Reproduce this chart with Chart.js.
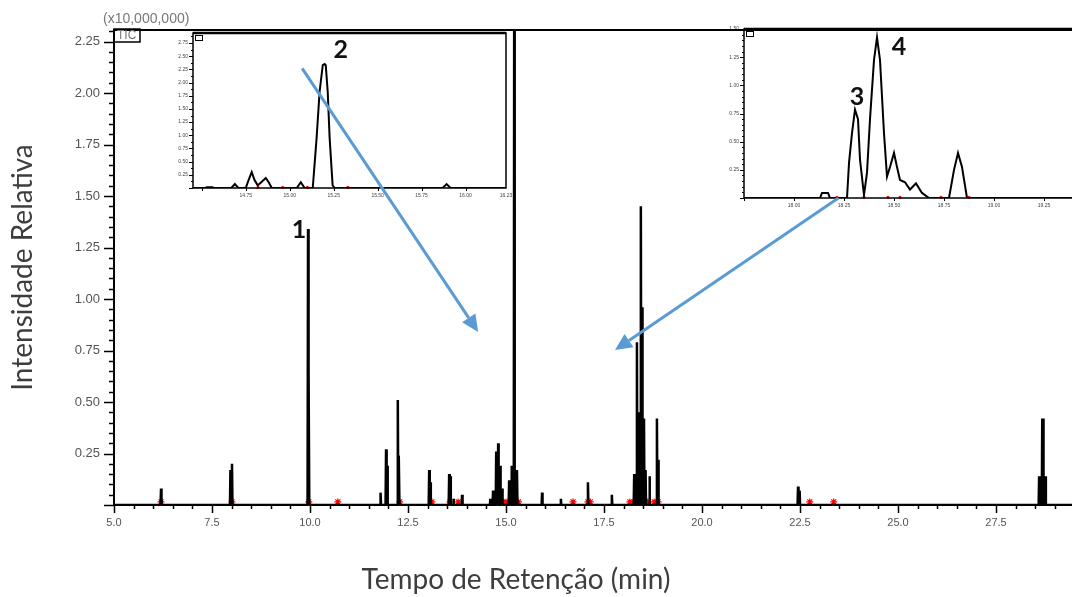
<!DOCTYPE html>
<html>
<head>
<meta charset="utf-8">
<script src="https://cdn.jsdelivr.net/npm/chart.js@4/dist/chart.umd.min.js"></script>
<style>
  html, body { margin: 0; padding: 0; background: #fff; overflow: hidden; width: 1072px; height: 597px; }
  #wrap { position: relative; width: 1072px; height: 597px; }
  canvas { position: absolute; }
  #inset1 { left: 155px; top: 25px; z-index: 1; }
  #inset2 { left: 700px; top: 20px; z-index: 1; }
  #main { left: 0; top: 0; z-index: 2; }
</style>
</head>
<body>
<div id="wrap">
  <canvas id="inset1" width="360" height="185"></canvas>
  <canvas id="inset2" width="420" height="195"></canvas>
  <canvas id="main" width="1100" height="597"></canvas>
</div>
<script>
// Main TIC chromatogram: peak retention times (min) and heights (x10,000,000)
const peakTimes = [6.20, 7.97, 8.01, 9.95, 9.97, 11.80, 11.94, 11.97, 12.24, 12.27,
  13.04, 13.07, 13.55, 13.58, 13.66, 13.88, 14.60, 14.67, 14.75, 14.80, 14.85, 14.90,
  15.08, 15.14, 15.21, 15.28, 15.92, 16.40, 17.09, 17.70, 18.27, 18.34, 18.37, 18.44,
  18.47, 18.52, 18.56, 18.66, 18.85, 18.88, 22.45, 22.49, 28.60, 28.68, 28.70, 28.76];
const peakHeights = [0.08, 0.17, 0.20, 1.34, 0.64, 0.06, 0.27, 0.19, 0.51, 0.24,
  0.17, 0.11, 0.15, 0.14, 0.03, 0.05, 0.03, 0.07, 0.26, 0.30, 0.19, 0.08,
  0.12, 0.19, 2.60, 0.17, 0.06, 0.03, 0.11, 0.05, 0.15, 0.79, 0.45, 1.45,
  0.96, 0.42, 0.17, 0.14, 0.42, 0.22, 0.09, 0.07, 0.14, 0.42, 0.42, 0.14];
// red integration markers on the baseline
const markTimes = [6.20, 8.01, 9.97, 10.71, 12.29, 13.11, 13.57, 13.78, 14.78, 14.90,
  15.00, 15.10, 15.25, 15.32, 16.71, 17.09, 17.15, 18.16, 18.27, 18.36, 18.45, 18.55,
  18.62, 18.78, 18.88, 22.75, 23.36];
const xTicks = { min: 5, max: 30, step: 2.5 };
const yTicks = { min: 0, max: 2.306, step: 0.25 };

// Inset 1 (peak 2) trace
const inset1Times = [14.45, 14.52, 14.53, 14.56, 14.57, 14.668, 14.688, 14.708, 14.75, 14.766,
  14.784, 14.80, 14.818, 14.841, 14.864, 14.882, 14.898, 15.04, 15.063, 15.085, 15.131,
  15.153, 15.17, 15.188, 15.199, 15.205, 15.216, 15.227, 15.244, 15.256, 15.87, 15.892,
  15.915, 16.23];
const inset1Values = [0, 0, 0.012, 0.012, 0, 0, 0.075, 0, 0, 0.15,
  0.30, 0.15, 0.05, 0.12, 0.19, 0.10, 0, 0, 0.11, 0, 0,
  0.95, 1.83, 2.33, 2.35, 2.33, 1.83, 0.95, 0.05, 0, 0, 0.075,
  0, 0];
const inset1Marks = [14.82, 14.96, 15.10, 15.33];

// Inset 2 (peaks 3 and 4) trace
const inset2Times = [17.75, 18.13, 18.14, 18.17, 18.18, 18.265, 18.275, 18.29, 18.305, 18.32,
  18.33, 18.35, 18.365, 18.38, 18.40, 18.415, 18.43, 18.45, 18.465, 18.48, 18.50, 18.515,
  18.53, 18.555, 18.58, 18.61, 18.64, 18.675, 18.775, 18.80, 18.82, 18.84, 18.865, 19.45];
const inset2Values = [0, 0, 0.045, 0.045, 0, 0, 0.31, 0.575, 0.785, 0.70,
  0.34, 0.025, 0.225, 0.70, 1.225, 1.425, 1.225, 0.575, 0.19, 0.275, 0.40, 0.275,
  0.16, 0.14, 0.075, 0.13, 0.045, 0, 0, 0.25, 0.40, 0.275, 0, 0];
const inset2Marks = [18.215, 18.35, 18.47, 18.53, 18.735, 18.875];

const MARK_Y = 0.015;
const TXT = '#3d3d3d';

// build the spike trace from the peak table
function spikeTrace(times, heights, from, to) {
  const hw = 0.012;
  const pts = [{ x: from, y: 0 }];
  times.forEach((t, i) => {
    pts.push({ x: t - hw, y: 0 }, { x: t, y: heights[i] }, { x: t + hw, y: 0 });
  });
  pts.push({ x: to, y: 0 });
  return pts;
}

// minor/major tick marks drawn outside the plot area
const tickMarks = {
  id: 'tickMarks',
  afterDraw(chart, args, o) {
    const { ctx, chartArea: a, scales: { x, y } } = chart;
    const isMajor = (v, s) => Math.abs(v / s - Math.round(v / s)) < 1e-6;
    ctx.save();
    ctx.strokeStyle = '#000';
    ctx.lineWidth = o.width;
    ctx.beginPath();
    let start = Math.ceil(x.min / o.xMinor - 1e-6);
    for (let i = start; i * o.xMinor <= x.max + 1e-9; i++) {
      const v = i * o.xMinor, px = Math.round(x.getPixelForValue(v)) + 0.5;
      const len = isMajor(v, o.xMajor) ? o.xLen[0] : o.xLen[1];
      ctx.moveTo(px, a.bottom); ctx.lineTo(px, a.bottom + len);
    }
    start = Math.ceil(y.min / o.yMinor - 1e-6);
    for (let i = start; i * o.yMinor <= y.max + 1e-9; i++) {
      const v = i * o.yMinor, py = Math.round(y.getPixelForValue(v)) + 0.5;
      const len = isMajor(v, o.yMajor) ? o.yLen[0] : o.yLen[1];
      ctx.moveTo(a.left, py); ctx.lineTo(a.left - len, py);
    }
    ctx.stroke();
    ctx.restore();
  }
};

// number labels placed at data coordinates
const peakLabels = {
  id: 'peakLabels',
  afterDatasetsDraw(chart, args, o) {
    const { ctx, scales: { x, y } } = chart;
    ctx.save();
    ctx.font = 'bold 25px Lato';
    ctx.fillStyle = '#111';
    ctx.textAlign = 'center';
    ctx.textBaseline = 'middle';
    (o.items || []).forEach(it => ctx.fillText(it.text, x.getPixelForValue(it.x), y.getPixelForValue(it.y)));
    ctx.restore();
  }
};

// inset frame
const insetBox = {
  id: 'insetBox',
  afterDraw(chart) {
    const { ctx, chartArea: a } = chart;
    ctx.save();
    ctx.strokeStyle = '#000';
    ctx.lineWidth = 1.5;
    ctx.strokeRect(a.left, a.top, a.right - a.left, a.bottom - a.top);
    ctx.lineWidth = 2.5;
    ctx.beginPath();
    ctx.moveTo(a.left, a.top); ctx.lineTo(a.right, a.top);
    ctx.stroke();
    ctx.lineWidth = 1;
    ctx.strokeRect(a.left + 2.5, a.top + 2.5, 7, 5);
    ctx.restore();
  }
};

function arrow(ctx, x1, y1, x2, y2) {
  const ang = Math.atan2(y2 - y1, x2 - x1), L = 17, W = 8;
  const bx = x2 - L * Math.cos(ang), by = y2 - L * Math.sin(ang);
  ctx.beginPath(); ctx.moveTo(x1, y1); ctx.lineTo(bx, by); ctx.stroke();
  ctx.beginPath();
  ctx.moveTo(x2, y2);
  ctx.lineTo(bx - W * Math.sin(ang), by + W * Math.cos(ang));
  ctx.lineTo(bx + W * Math.sin(ang), by - W * Math.cos(ang));
  ctx.closePath(); ctx.fill();
}

// main frame: top rule, TIC box, multiplier, x title and arrows
const mainFrame = {
  id: 'mainFrame',
  afterDraw(chart, args, o) {
    const { ctx, chartArea: a, scales: { x, y } } = chart;
    ctx.save();
    ctx.strokeStyle = '#000';
    ctx.lineWidth = 2;
    ctx.beginPath(); ctx.moveTo(a.left, a.top); ctx.lineTo(a.right, a.top); ctx.stroke();
    ctx.lineWidth = 1.5;
    ctx.strokeRect(a.left, a.top - 1, 26, 13);
    ctx.fillStyle = '#777';
    ctx.font = '12px "Liberation Sans"';
    ctx.textBaseline = 'middle';
    ctx.fillText('TIC', a.left + 3, a.top + 6);
    ctx.font = '14px "Liberation Sans"';
    ctx.fillText('(x10,000,000)', a.left - 11, a.top - 11);

    ctx.fillStyle = TXT;
    ctx.font = '28px Lato';
    ctx.textAlign = 'center';
    ctx.fillText(o.xTitle, 516, 580);

    ctx.strokeStyle = '#5b9bd5';
    ctx.fillStyle = '#5b9bd5';
    ctx.lineWidth = 3;
    o.arrows.forEach(ar => arrow(ctx,
      x.getPixelForValue(ar[0]), y.getPixelForValue(ar[1]),
      x.getPixelForValue(ar[2]), y.getPixelForValue(ar[3])));
    ctx.restore();
  }
};

const smallTick = { color: '#444', font: { family: 'Liberation Sans', size: 5 }, autoSkip: false, maxRotation: 0 };

new Chart(document.getElementById('main'), {
  type: 'line',
  data: {
    datasets: [{
      data: spikeTrace(peakTimes, peakHeights, xTicks.min, xTicks.max),
      borderColor: '#000', borderWidth: 2.5, pointRadius: 0, tension: 0
    }, {
      data: markTimes.map(t => ({ x: t, y: MARK_Y })),
      showLine: false, pointStyle: 'star', pointRadius: 3.5,
      pointBorderColor: '#ff0000', pointBorderWidth: 1.2, clip: false
    }]
  },
  options: {
    responsive: false, animation: false, devicePixelRatio: 1,
    layout: { padding: { top: 30, right: 6, left: 0, bottom: 0 } },
    plugins: {
      legend: { display: false }, tooltip: { enabled: false },
      tickMarks: { width: 1.5, xMinor: 0.5, xMajor: 2.5, xLen: [8, 4], yMinor: 0.05, yMajor: 0.25, yLen: [10, 5] },
      peakLabels: { items: [{ text: '1', x: 9.72, y: 1.335 }] },
      mainFrame: {
        xTitle: 'Tempo de Retenção (min)',
        arrows: [[9.80, 2.12, 14.29, 0.84], [23.48, 1.49, 17.78, 0.752]]
      }
    },
    scales: {
      x: {
        type: 'linear', min: xTicks.min, max: xTicks.max,
        border: { display: true, color: '#000', width: 2 },
        grid: { display: false, drawTicks: false },
        ticks: { stepSize: xTicks.step, padding: 11, color: '#555', autoSkip: false, maxRotation: 0,
          font: { family: 'Liberation Sans', size: 11 },
          callback: v => (v >= xTicks.max - 1e-6 ? '' : v.toFixed(1)) },
        afterFit: s => { s.height = 92; s.paddingRight = 0; }
      },
      y: {
        min: yTicks.min, max: yTicks.max,
        border: { display: true, color: '#000', width: 2 },
        grid: { display: false, drawTicks: false },
        ticks: { stepSize: yTicks.step, includeBounds: false, padding: 14, color: '#555',
          font: { family: 'Liberation Sans', size: 13 }, callback: v => v === 0 ? '' : v.toFixed(2) },
        title: { display: true, text: 'Intensidade Relativa', color: TXT,
          font: { family: 'Lato', size: 28 }, padding: { top: 6, bottom: 0 } },
        afterFit: s => { s.width = 114; }
      }
    }
  },
  plugins: [tickMarks, peakLabels, mainFrame]
});

function insetChart(id, times, values, marks, cfg) {
  return new Chart(document.getElementById(id), {
    type: 'line',
    data: {
      datasets: [{
        data: times.map((t, i) => ({ x: t, y: values[i] })),
        borderColor: '#000', borderWidth: 2, pointRadius: 0, tension: 0
      }, {
        data: marks.map(t => ({ x: t, y: cfg.markY })),
        showLine: false, pointStyle: 'rect', pointRadius: 1.3,
        pointBackgroundColor: '#ff0000', pointBorderColor: '#ff0000', clip: false
      }]
    },
    options: {
      responsive: false, animation: false, devicePixelRatio: 1,
      layout: { padding: cfg.padding },
      plugins: {
        legend: { display: false }, tooltip: { enabled: false },
        tickMarks: cfg.ticks,
        peakLabels: { items: cfg.labels }
      },
      scales: {
        x: {
          type: 'linear', min: cfg.xMin, max: cfg.xMax,
          border: { display: false }, grid: { display: false, drawTicks: false },
          ticks: Object.assign({ stepSize: cfg.xStep, padding: 5,
            callback: v => (v <= cfg.xMin + 1e-6 ? '' : v.toFixed(2)) }, smallTick),
          afterFit: s => { s.height = cfg.xH; s.paddingRight = 0; s.paddingLeft = 0; }
        },
        y: {
          min: 0, max: cfg.yMax,
          border: { display: false }, grid: { display: false, drawTicks: false },
          ticks: Object.assign({ stepSize: 0.25, includeBounds: false, padding: 5,
            callback: v => (v === 0 ? '' : v.toFixed(2)) }, smallTick),
          afterFit: s => { s.width = cfg.yW; }
        }
      }
    },
    plugins: [insetBox, tickMarks, peakLabels]
  });
}

insetChart('inset1', inset1Times, inset1Values, inset1Marks, {
  xMin: 14.45, xMax: 16.23, xStep: 0.25, yMax: 2.94, markY: 0.01,
  padding: { top: 7, right: 9, left: 0, bottom: 0 }, xH: 22, yW: 38,
  ticks: { width: 1, xMinor: 0.25, xMajor: 0.25, xLen: [3, 3], yMinor: 0.125, yMajor: 0.25, yLen: [4, 2] },
  labels: [{ text: '2', x: 15.29, y: 2.61 }]
});

insetChart('inset2', inset2Times, inset2Values, inset2Marks, {
  xMin: 17.75, xMax: 19.45, xStep: 0.25, yMax: 1.5, markY: 0.006,
  padding: { top: 9, right: 36, left: 0, bottom: 0 }, xH: 17, yW: 44,
  ticks: { width: 1, xMinor: 0.25, xMajor: 0.25, xLen: [3, 3], yMinor: 0.05, yMajor: 0.25, yLen: [4, 2] },
  labels: [{ text: '3', x: 18.315, y: 0.90 }, { text: '4', x: 18.525, y: 1.34 }]
});
</script>
</body>
</html>
